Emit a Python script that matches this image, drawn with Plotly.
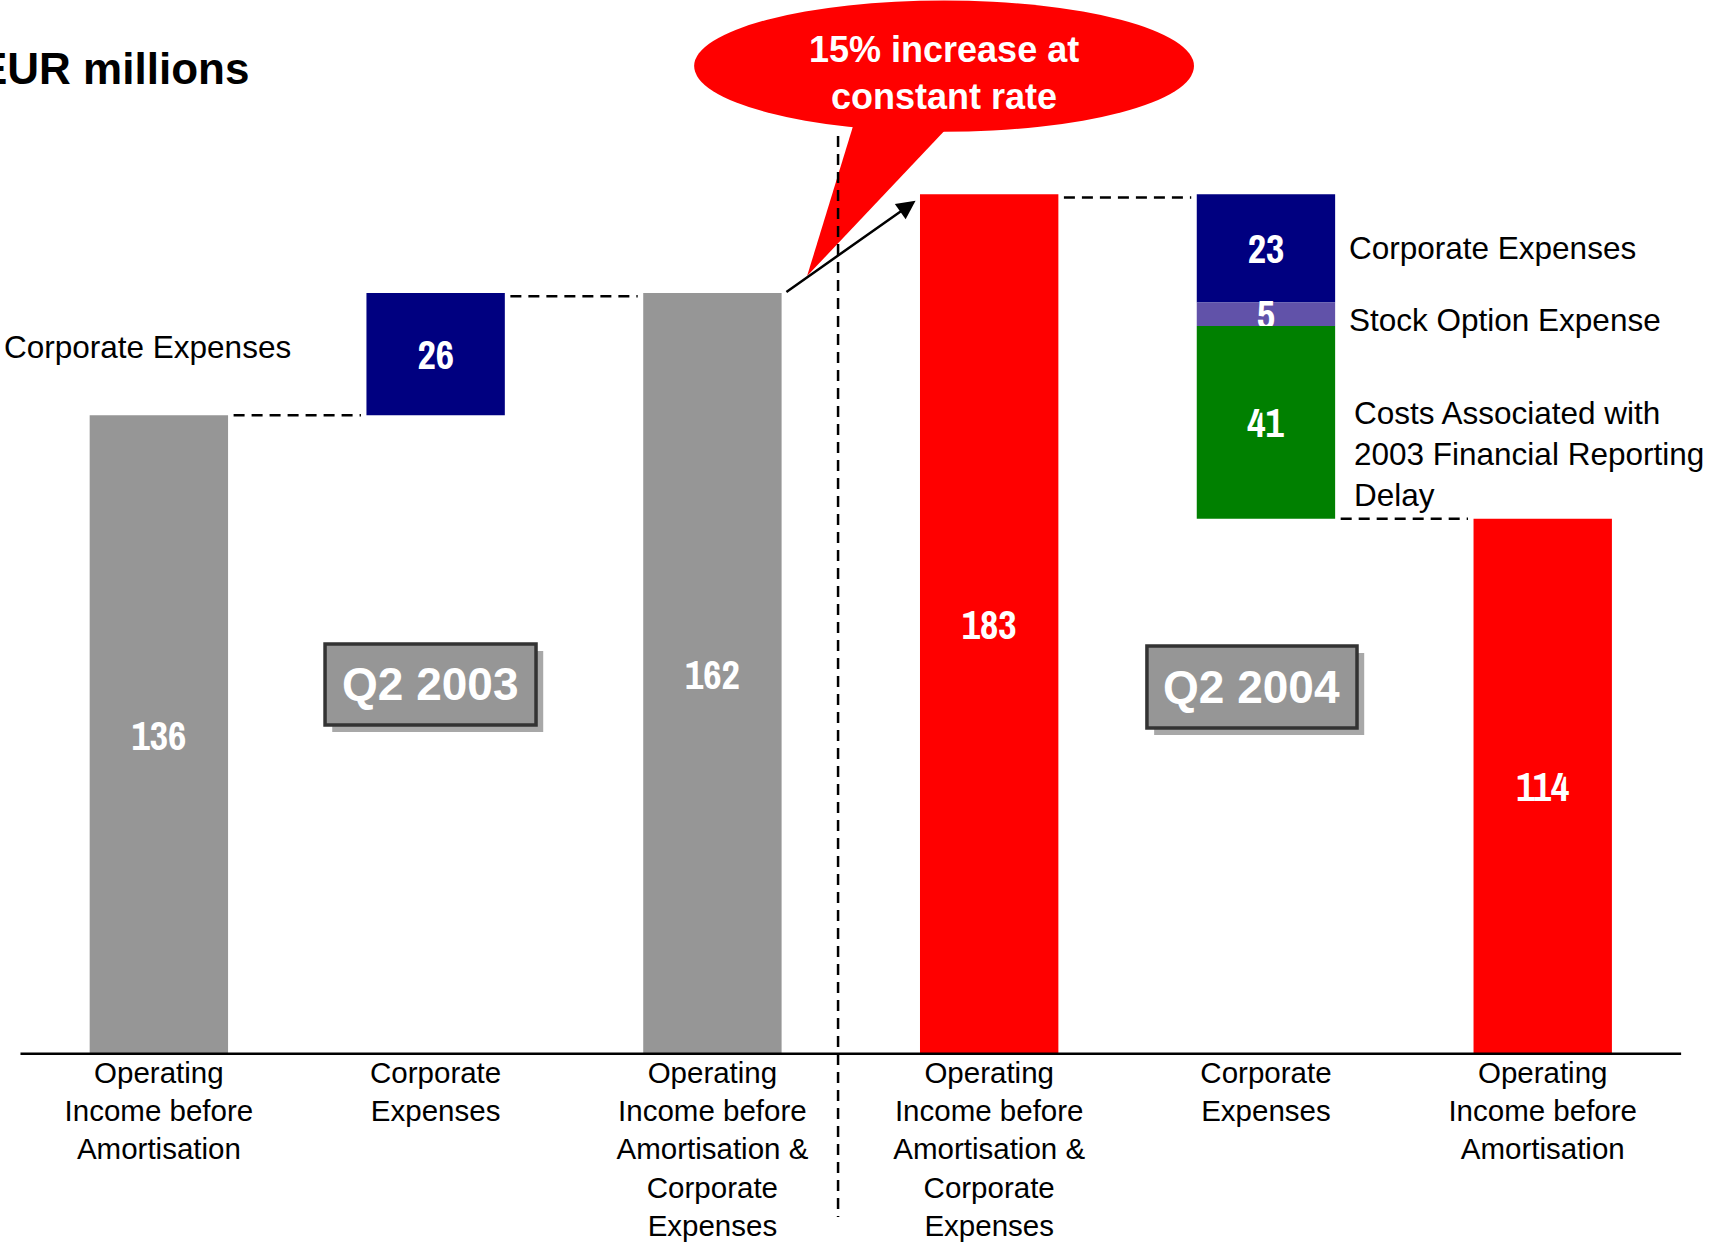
import plotly.graph_objects as go

# ---------------- data ----------------
tick_labels = [
    "Operating<br>Income before<br>Amortisation",
    "Corporate<br>Expenses",
    "Operating<br>Income before<br>Amortisation &<br>Corporate<br>Expenses",
    "Operating<br>Income before<br>Amortisation &<br>Corporate<br>Expenses",
    "Corporate<br>Expenses",
    "Operating<br>Income before<br>Amortisation",
]
q2_2003_oiba = 136
q2_2003_corporate = 26
q2_2003_oiba_corporate = 162
q2_2004_oiba_corporate = 183
q2_2004_corporate = 23
q2_2004_stock_option = 5
q2_2004_reporting_delay = 41
q2_2004_oiba = 114

GRAY = "#969696"
NAVY = "#000080"
RED = "#FF0000"
GREEN = "#008000"
PURPLE = "#6152A9"
FONT = "Liberation Sans, Arial, sans-serif"
NARROW = "Archivo Narrow, Asap Condensed, Liberation Sans, sans-serif"

# waterfall segments
seg_x = [0, 1, 2, 3, 4, 4, 4, 5]
seg_y = [q2_2003_oiba, q2_2003_corporate, q2_2003_oiba_corporate, q2_2004_oiba_corporate,
         q2_2004_corporate, q2_2004_stock_option, q2_2004_reporting_delay, q2_2004_oiba]
seg_base = [0, q2_2003_oiba, 0, 0,
            q2_2004_oiba + q2_2004_reporting_delay + q2_2004_stock_option,
            q2_2004_oiba + q2_2004_reporting_delay,
            q2_2004_oiba, 0]
seg_color = [GRAY, NAVY, GRAY, RED, NAVY, PURPLE, GREEN, RED]

fig = go.Figure()
fig.add_trace(go.Bar(
    x=seg_x, y=seg_y, base=seg_base, width=0.5,
    marker=dict(color=seg_color, line=dict(width=0)),
    text=[str(v) for v in seg_y], textposition="inside", insidetextanchor="middle",
    textangle=0, constraintext="none",
    textfont=dict(family=NARROW, size=40, color="white", weight="bold"),
    hoverinfo="skip",
))

shapes = []
# baseline
shapes.append(dict(type="line", xref="x", yref="y", x0=-0.5, x1=5.5, y0=0, y1=0,
                   line=dict(color="black", width=5)))
# connectors
conn = [(0, q2_2003_oiba, 0), (1, q2_2003_oiba_corporate, -0.7),
        (3, q2_2004_oiba_corporate, -0.7), (4, q2_2004_oiba, 0)]
for i, lvl, off in conn:
    shapes.append(dict(type="line", xref="x", yref="y", x0=i + 0.27, x1=i + 0.73,
                       y0=lvl + off, y1=lvl + off,
                       line=dict(color="black", width=2.5, dash="11px,7px")))
# callout ellipse + tail
shapes.append(dict(type="circle", xref="x", yref="y", x0=1.934, x1=3.740, y0=196.3, y1=224.2,
                   fillcolor=RED, line=dict(width=0)))
shapes.append(dict(type="path", xref="x", yref="y",
                   path="M 2.5135,198.5 L 2.859,197.8 L 2.342,165.6 Z",
                   fillcolor=RED, line=dict(width=0)))
# vertical separator
shapes.append(dict(type="line", xref="x", yref="paper", x0=2.454, x1=2.454, y0=0.871, y1=-0.1536,
                   line=dict(color="black", width=2.5, dash="11px,7px")))
# Q2 boxes with shadows
for (x0, x1, y0, y1) in [(0.6004, 1.3627, 70.17, 87.39), (3.570, 4.329, 69.53, 86.97)]:
    shapes.append(dict(type="rect", xref="x", yref="y", x0=x0 + 0.026, x1=x1 + 0.026,
                       y0=y0 - 1.5, y1=y1 - 1.5, fillcolor="#A8A8A8", line=dict(width=0)))
    shapes.append(dict(type="rect", xref="x", yref="y", x0=x0, x1=x1, y0=y0, y1=y1,
                       fillcolor=GRAY, line=dict(color="#333333", width=3.5)))

annotations = []
annotations.append(dict(xref="paper", yref="paper", x=0.1467, y=0.9355, xanchor="right", yanchor="middle",
                        text="<b>EUR millions</b>", showarrow=False,
                        font=dict(family=FONT, size=44, color="black")))
annotations.append(dict(xref="x", yref="y", x=2.837, y=208.7, text="<b>15% increase at<br>constant rate</b>",
                        showarrow=False, font=dict(family=FONT, size=36, color="white")))
annotations.append(dict(xref="x", yref="y", x=2.734, y=181.6, ax=2.262, ay=162, axref="x", ayref="y",
                        text="", showarrow=True, arrowhead=2, arrowsize=1.5, arrowwidth=2.5,
                        arrowcolor="black", standoff=0))
annotations.append(dict(xref="x", yref="y", x=0.98, y=78.8, text="<b>Q2 2003</b>", showarrow=False,
                        font=dict(family=FONT, size=46, color="white")))
annotations.append(dict(xref="x", yref="y", x=3.949, y=78.2, text="<b>Q2 2004</b>", showarrow=False,
                        font=dict(family=FONT, size=46, color="white")))
side = [
    (0.0012, 0.671, "Corporate Expenses"),
    (0.7875, 0.765, "Corporate Expenses"),
    (0.7875, 0.6967, "Stock Option Expense"),
    (0.7900, 0.5697, "Costs Associated with<br>2003 Financial Reporting<br>Delay"),
]
for x, y, t in side:
    annotations.append(dict(xref="paper", yref="paper", x=x, y=y, xanchor="left", yanchor="middle",
                            align="left", text=t, showarrow=False,
                            font=dict(family=FONT, size=31.5, color="black")))

fig.update_layout(
    width=1711, height=1246,
    margin=dict(l=0, r=0, t=0, b=191, pad=0, autoexpand=False),
    paper_bgcolor="white", plot_bgcolor="white",
    showlegend=False, barmode="overlay",
    xaxis=dict(range=[-0.574, 5.608], tickvals=list(range(6)), ticktext=tick_labels,
               showgrid=False, zeroline=False, showline=False, ticks="", automargin=False,
               ticklabelstandoff=-3,
               tickfont=dict(family=FONT, size=29.5, color="black"), fixedrange=True),
    yaxis=dict(range=[0, 224.3], visible=False, showgrid=False, zeroline=False, fixedrange=True),
    shapes=shapes, annotations=annotations,
)
fig.write_html("out.html")
